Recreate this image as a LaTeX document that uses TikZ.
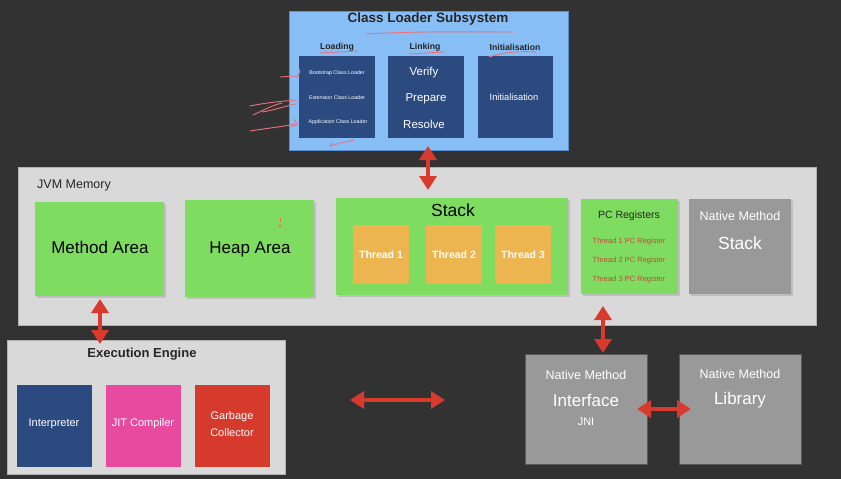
\documentclass[tikz,border=0pt]{standalone}
\usepackage{fontspec}
\setmainfont{Liberation Sans}
\usetikzlibrary{arrows.meta}
\definecolor{bgdark}{HTML}{323232}
\definecolor{clblue}{HTML}{86BEF5}
\definecolor{clborder}{HTML}{5C8FD2}
\definecolor{navy}{HTML}{2B4A80}
\definecolor{greenbox}{HTML}{7EDD60}
\definecolor{lightgray}{HTML}{D9D9D9}
\definecolor{orangebox}{HTML}{EDB550}
\definecolor{midgray}{HTML}{999999}
\definecolor{redarrow}{HTML}{D93A2E}
\definecolor{pinkbox}{HTML}{E84AA0}
\definecolor{redbox}{HTML}{D63A2D}
\definecolor{pctext}{HTML}{C4493A}
\definecolor{scribble}{HTML}{E8737F}
\tikzset{
  dbl/.style={draw=redarrow, line width=4pt, {Triangle[length=14pt,width=17pt]}-{Triangle[length=14pt,width=17pt]}},
  pen/.style={draw=scribble, line width=0.9pt, line cap=round},
  txt/.style={inner sep=0pt, anchor=center}
}
\begin{document}
\begin{tikzpicture}[x=1pt,y=-1pt]
\fill[bgdark] (0,0) rectangle (841,479);
\useasboundingbox (0,0) rectangle (841,479);

% ---------- Class Loader Subsystem ----------
\filldraw[fill=clblue, draw=clborder, line width=0.8pt] (289,11) rectangle (568,150);
\node[txt, font=\bfseries\fontsize{13.5}{15}\selectfont, text=black!85] (cltitle) at (428,19) {Class Loader Subsystem};
\node[txt, font=\bfseries\fontsize{8.7}{10}\selectfont, text=black!85] (hload) at (337,47) {Loading};
\node[txt, font=\bfseries\fontsize{8.7}{10}\selectfont, text=black!85] (hlink) at (425,47) {Linking};
\node[txt, font=\bfseries\fontsize{8.7}{10}\selectfont, text=black!85] (hinit) at (515,47) {Initialisation};
\fill[navy] (299,56) rectangle (375,138);
\fill[navy] (388,56) rectangle (464,138);
\fill[navy] (478,56) rectangle (553,138);
\node[txt, text=white, font=\fontsize{5.3}{6}\selectfont] (boot) at (337,73) {Bootstrap Class Loader};
\node[txt, text=white, font=\fontsize{5.3}{6}\selectfont] (ext) at (337,98) {Extension Class Loader};
\node[txt, text=white, font=\fontsize{5.3}{6}\selectfont] (app) at (338,122) {Application Class Loader};
\node[txt, text=white, font=\fontsize{11.5}{12}\selectfont] (verify) at (424,73) {Verify};
\node[txt, text=white, font=\fontsize{11.5}{12}\selectfont] (prepare) at (426,99) {Prepare};
\node[txt, text=white, font=\fontsize{11.5}{12}\selectfont] (resolve) at (424,124) {Resolve};
\node[txt, text=white, font=\fontsize{9.3}{10}\selectfont] (initb) at (514,97) {Initialisation};

% scribbles
\draw[pen] (366,34) .. controls (420,31) and (470,32) .. (515,32);
\draw[pen] (320,53) -- (358,51);
\draw[pen] (410,54) -- (444,52);
\draw[pen] (489,57) .. controls (505,52) and (520,51) .. (536,52);
\draw[pen] (296,77) .. controls (299,74) and (301,72) .. (299,69);
\draw[pen] (280,77) -- (297,76);
\draw[pen] (250,106) .. controls (270,102) and (285,101) .. (297,100);
\draw[pen] (262,112) .. controls (275,110) and (285,106) .. (296,104);
\draw[pen] (253,115) .. controls (262,111) and (270,106) .. (282,103);
\draw[pen] (250,131) .. controls (270,128) and (285,126) .. (297,124);
\draw[pen] (292,127) -- (297,124) -- (294,119);
\draw[pen] (330,146) .. controls (340,143) and (350,141) .. (354,140);
\draw[pen] (330,146) -- (333,143);

% ---------- JVM Memory ----------
\filldraw[fill=lightgray, draw=gray!60, line width=0.5pt] (18,167) rectangle (816,325);
\node[txt, anchor=west, font=\fontsize{12.5}{14}\selectfont, text=black!85] (jvm) at (37,185) {JVM Memory};

\fill[black!25] (37,204) rectangle (166,298);
\fill[greenbox] (35,202) rectangle (164,296);
\node[txt, font=\fontsize{17}{19}\selectfont] (method) at (100,247) {Method Area};

\fill[black!25] (187,202) rectangle (316,299);
\fill[greenbox] (185,200) rectangle (314,297);
\node[txt, font=\fontsize{17}{19}\selectfont] (heap) at (250,249) {Heap Area};
\draw[draw=scribble!70!orange, line width=0.8pt, line cap=round] (280,218) -- (280,222);
\fill[scribble!60!orange] (280,226) circle (1.6pt);

\fill[black!25] (338,200) rectangle (570,297);
\fill[greenbox] (336,198) rectangle (568,295);
\node[txt, font=\fontsize{17.5}{19}\selectfont] (stack) at (453,210) {Stack};
\fill[orangebox] (353,225) rectangle (409,284);
\fill[orangebox] (426,225) rectangle (482,284);
\fill[orangebox] (495,225) rectangle (551,284);
\node[txt, text=white, font=\bfseries\fontsize{10.5}{12}\selectfont] (t1) at (381,255) {Thread 1};
\node[txt, text=white, font=\bfseries\fontsize{10.5}{12}\selectfont] (t2) at (454,255) {Thread 2};
\node[txt, text=white, font=\bfseries\fontsize{10.5}{12}\selectfont] (t3) at (523,255) {Thread 3};

\fill[black!25] (583,201) rectangle (680,296);
\fill[greenbox] (581,199) rectangle (678,294);
\node[txt, font=\fontsize{10.5}{12}\selectfont, text=black!85] (pc) at (629,216) {PC Registers};
\node[txt, text=pctext, font=\fontsize{7.5}{9}\selectfont] (pc1) at (629,242) {Thread 1 PC Register};
\node[txt, text=pctext, font=\fontsize{7.5}{9}\selectfont] (pc2) at (629,261) {Thread 2 PC Register};
\node[txt, text=pctext, font=\fontsize{7.5}{9}\selectfont] (pc3) at (629,280) {Thread 3 PC Register};

\fill[black!25] (691,201) rectangle (793,296);
\fill[midgray] (689,199) rectangle (791,294);
\node[txt, text=white, font=\fontsize{12.5}{14}\selectfont] (nms1) at (740,216) {Native Method};
\node[txt, text=white, font=\fontsize{17.5}{19}\selectfont] (nms2) at (740,243) {Stack};

% ---------- Execution Engine ----------
\filldraw[fill=lightgray, draw=gray!60, line width=0.5pt] (7,340) rectangle (285,474);
\node[txt, font=\bfseries\fontsize{13}{15}\selectfont, text=black!85] (exec) at (142,354) {Execution Engine};
\fill[navy] (17,385) rectangle (92,467);
\fill[pinkbox] (106,385) rectangle (181,467);
\fill[redbox] (195,385) rectangle (270,467);
\node[txt, text=white, font=\fontsize{11}{12}\selectfont] (interp) at (54,424) {Interpreter};
\node[txt, text=white, font=\fontsize{11}{12}\selectfont] (jit) at (143,424) {JIT Compiler};
\node[txt, text=white, font=\fontsize{11}{12}\selectfont, align=center] (gc) at (232,424) {Garbage\\[5pt]Collector};

% ---------- Native Method Interface / Library ----------
\filldraw[fill=midgray, draw=gray!70!black, line width=0.4pt] (525,354) rectangle (647,464);
\node[txt, text=white, font=\fontsize{12.5}{14}\selectfont] (nmi1) at (586,375) {Native Method};
\node[txt, text=white, font=\fontsize{17}{19}\selectfont] (nmi2) at (586,400) {Interface};
\node[txt, text=white, font=\fontsize{11}{12}\selectfont] (jni) at (586,422) {JNI};

\filldraw[fill=midgray, draw=gray!70!black, line width=0.4pt] (679,354) rectangle (801,464);
\node[txt, text=white, font=\fontsize{12.5}{14}\selectfont] (nml1) at (740,374) {Native Method};
\node[txt, text=white, font=\fontsize{17}{19}\selectfont] (nml2) at (740,400) {Library};

% ---------- Arrows ----------
\coordinate (a1) at (428,146);
\coordinate (a2) at (428,190);
\draw[dbl] (a1) -- (a2);
\coordinate (b1) at (100,299);
\coordinate (b2) at (100,344);
\draw[dbl] (b1) -- (b2);
\coordinate (c1) at (603,306);
\coordinate (c2) at (603,353);
\draw[dbl] (c1) -- (c2);
\coordinate (d1) at (350,400);
\coordinate (d2) at (445,400);
\draw[dbl] (d1) -- (d2);
\coordinate (e1) at (637,409);
\coordinate (e2) at (691,409);
\draw[dbl] (e1) -- (e2);
\end{tikzpicture}
\end{document}
